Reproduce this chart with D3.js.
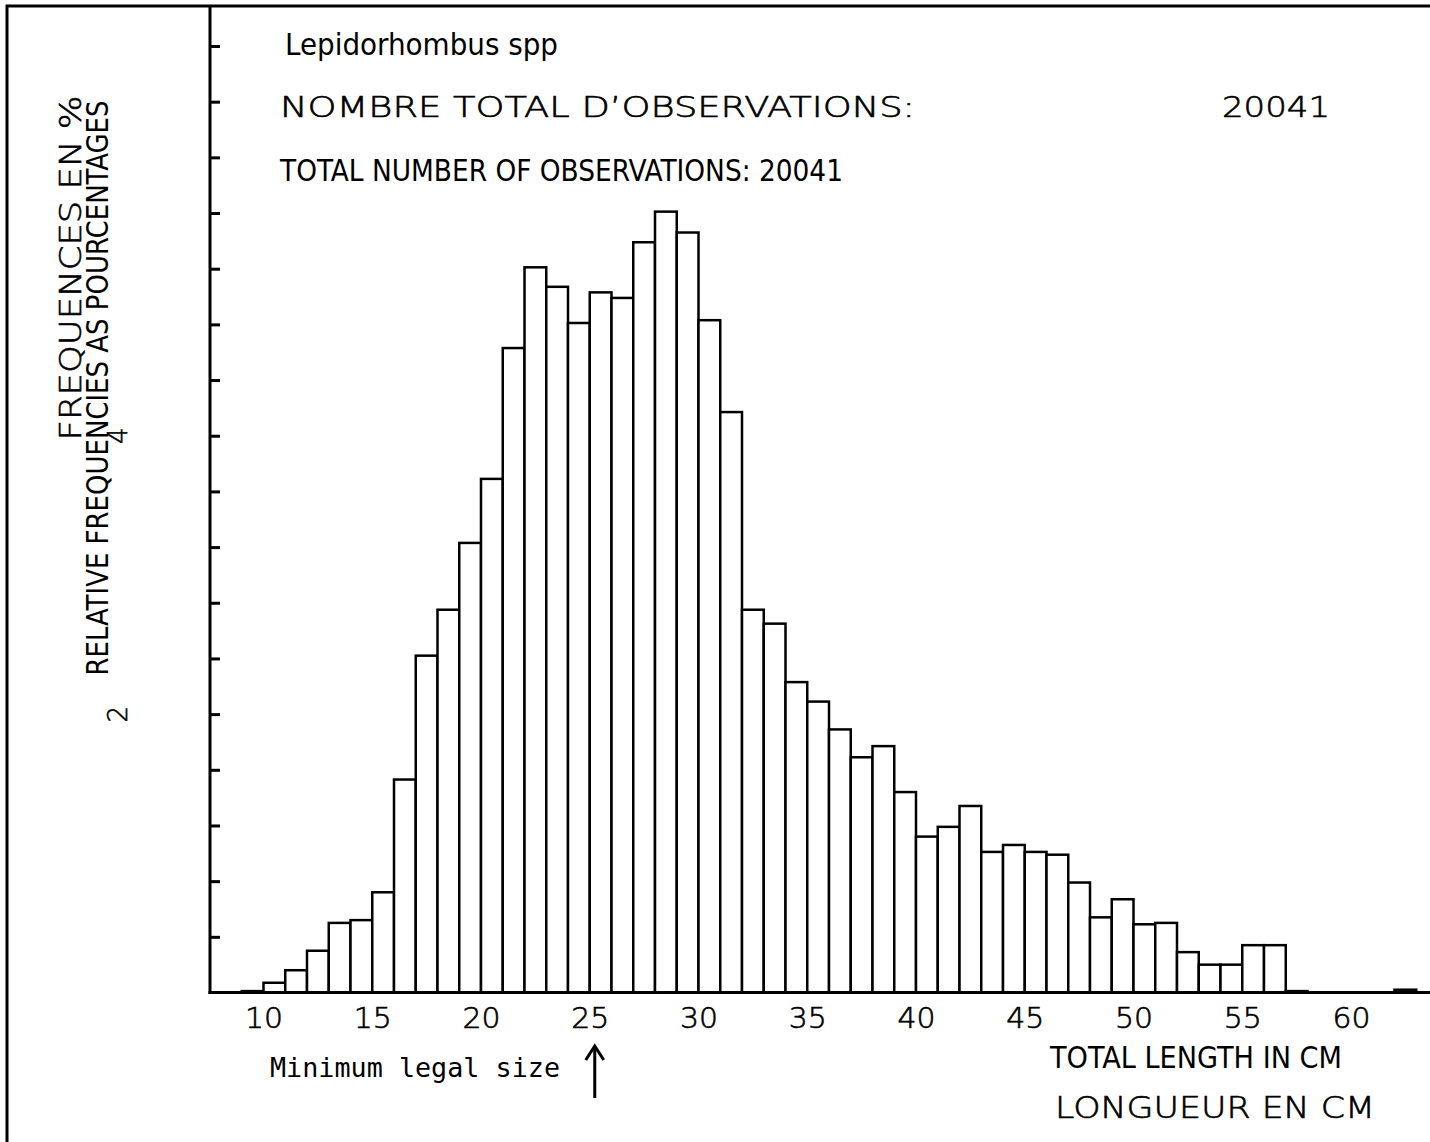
<!DOCTYPE html>
<html>
<head>
<meta charset="utf-8">
<script src="https://cdn.jsdelivr.net/npm/d3@7"></script>
<style>
  body { margin: 0; background: #fff; }
  svg { display: block; }
  .plot-txt { font-family: 'DejaVu Sans', sans-serif; font-weight: 200; stroke: #000; stroke-width: 0.6px; }
</style>
</head>
<body>
<div id="root"></div>
<script>
// length classes (cm, lower bound) and relative frequencies (%)
const lengths = [9, 10, 11, 12, 13, 14, 15, 16, 17, 18, 19, 20, 21, 22, 23, 24, 25, 26, 27, 28, 29,
  30, 31, 32, 33, 34, 35, 36, 37, 38, 39, 40, 41, 42, 43, 44, 45, 46, 47, 48, 49, 50,
  51, 52, 53, 54, 55, 56, 57, 58, 59, 60, 61, 62];
const freqs = [0.01, 0.07, 0.16, 0.30, 0.50, 0.52, 0.72, 1.53, 2.42, 2.75, 3.23, 3.69, 4.63, 5.21, 5.07, 4.81, 5.03, 4.99, 5.39, 5.61, 5.46,
  4.83, 4.17, 2.75, 2.65, 2.23, 2.09, 1.89, 1.69, 1.77, 1.44, 1.12, 1.19, 1.34, 1.01, 1.06, 1.01, 0.99, 0.79, 0.54, 0.67, 0.49,
  0.50, 0.29, 0.20, 0.20, 0.34, 0.34, 0.01, 0, 0, 0, 0, 0.02];
const xTicks = [10, 15, 20, 25, 30, 35, 40, 45, 50, 55, 60];
const yTicks = [0.4, 0.8, 1.2, 1.6, 2.0, 2.4, 2.8, 3.2, 3.6, 4.0, 4.4, 4.8, 5.2, 5.6, 6.0, 6.4, 6.8];
const yLabels = [2, 4];
const species = "Lepidorhombus spp";
const totalObs = 20041;

const W = 1430, H = 1142;
const mono = "'DejaVu Sans Mono', monospace";
const narrow = "'Liberation Sans Narrow', 'DejaVu Sans Condensed', sans-serif";

const svg = d3.select("#root").append("svg")
  .attr("width", W)
  .attr("height", H);

const x = d3.scaleLinear().domain([10, 60]).range([263.5, 1351]);
const y = d3.scaleLinear().domain([0, 6.8]).range([992.5, 46]);
const axisX = 210;

// outer frame (left + top)
svg.append("path")
  .attr("d", "M7,1142 L7,6 L1430,6")
  .attr("fill", "none")
  .attr("stroke", "#000")
  .attr("stroke-width", 3);

// bars
const data = lengths.map((l, i) => ({ cm: l, v: freqs[i] })).filter(d => d.v > 0);
svg.append("g")
  .selectAll("rect")
  .data(data)
  .enter().append("rect")
    .attr("x", d => x(d.cm))
    .attr("y", d => y(d.v))
    .attr("width", d => x(d.cm + 1) - x(d.cm))
    .attr("height", d => y(0) - y(d.v))
    .attr("fill", "#fff")
    .attr("stroke", "#000")
    .attr("stroke-width", 2.5);

// y axis: inward ticks, no labels from the axis itself
const yAxis = svg.append("g")
  .attr("transform", "translate(" + axisX + ",0)")
  .call(d3.axisRight(y).tickValues(yTicks).tickSize(10).tickFormat(""));
yAxis.select(".domain").remove();
yAxis.selectAll("line").attr("stroke", "#000").attr("stroke-width", 3);
svg.append("line")
  .attr("x1", axisX).attr("x2", axisX)
  .attr("y1", 6).attr("y2", y(0) + 1.5)
  .attr("stroke", "#000").attr("stroke-width", 3);

// rotated y tick labels
svg.append("g")
  .selectAll("text")
  .data(yLabels)
  .enter().append("text")
    .attr("class", "plot-txt")
    .attr("transform", d => "translate(127," + y(d) + ") rotate(-90)")
    .attr("text-anchor", "middle")
    .style("font-size", "26px")
    .text(d => d);

// x axis
const xAxis = svg.append("g")
  .attr("transform", "translate(0," + y(0) + ")")
  .call(d3.axisBottom(x).tickValues(xTicks).tickSize(0).tickPadding(0).tickFormat(d3.format("d")));
xAxis.select(".domain").remove();
xAxis.selectAll("text")
  .attr("class", "plot-txt")
  .attr("dy", null)
  .attr("y", 35)
  .attr("textLength", 38)
  .attr("lengthAdjust", "spacingAndGlyphs")
  .style("font-size", "28px")
  .attr("fill", "#000");
svg.append("line")
  .attr("x1", axisX - 1.5).attr("x2", W)
  .attr("y1", y(0)).attr("y2", y(0))
  .attr("stroke", "#000").attr("stroke-width", 3);

// header texts
svg.append("text")
  .attr("x", 285).attr("y", 55)
  .attr("textLength", 273).attr("lengthAdjust", "spacingAndGlyphs")
  .style("font-family", narrow).style("font-size", "30px")
  .text(species);

svg.append("text")
  .attr("class", "plot-txt")
  .attr("x", 280).attr("y", 117)
  .attr("textLength", 635).attr("lengthAdjust", "spacingAndGlyphs")
  .style("font-size", "28px")
  .text("NOMBRE TOTAL D\u2019OBSERVATIONS:");

svg.append("text")
  .attr("class", "plot-txt")
  .attr("x", 1222).attr("y", 117)
  .attr("textLength", 108).attr("lengthAdjust", "spacingAndGlyphs")
  .style("font-size", "28px")
  .text(totalObs);

svg.append("text")
  .attr("x", 280).attr("y", 181)
  .attr("textLength", 563).attr("lengthAdjust", "spacingAndGlyphs")
  .style("font-family", narrow).style("font-size", "31px")
  .text("TOTAL NUMBER OF OBSERVATIONS: " + totalObs);

// y titles
svg.append("text")
  .attr("class", "plot-txt")
  .attr("transform", "translate(81,268) rotate(-90)")
  .attr("text-anchor", "middle")
  .attr("textLength", 345).attr("lengthAdjust", "spacingAndGlyphs")
  .style("font-size", "31px")
  .text("FREQUENCES EN %");

svg.append("text")
  .attr("transform", "translate(108,388) rotate(-90)")
  .attr("text-anchor", "middle")
  .attr("textLength", 575).attr("lengthAdjust", "spacingAndGlyphs")
  .style("font-family", narrow).style("font-size", "30px")
  .text("RELATIVE FREQUENCIES AS POURCENTAGES");

// x titles
svg.append("text")
  .attr("x", 1050).attr("y", 1068)
  .attr("textLength", 292).attr("lengthAdjust", "spacingAndGlyphs")
  .style("font-family", narrow).style("font-size", "30px")
  .text("TOTAL LENGTH IN CM");

svg.append("text")
  .attr("class", "plot-txt")
  .attr("x", 1055).attr("y", 1118)
  .attr("textLength", 320).attr("lengthAdjust", "spacingAndGlyphs")
  .style("font-size", "30px")
  .text("LONGUEUR EN CM");

// minimum legal size marker
const legalSize = 25;
svg.append("text")
  .attr("x", 270).attr("y", 1077)
  .attr("textLength", 290).attr("lengthAdjust", "spacingAndGlyphs")
  .style("font-family", mono).style("font-size", "27px")
  .text("Minimum legal size");

const ax = x(legalSize) + 5;
svg.append("line")
  .attr("x1", ax).attr("x2", ax)
  .attr("y1", 1098).attr("y2", 1047)
  .attr("stroke", "#000").attr("stroke-width", 3);
svg.append("path")
  .attr("d", "M" + (ax - 9) + ",1060 L" + ax + ",1046 L" + (ax + 9) + ",1060")
  .attr("fill", "none")
  .attr("stroke", "#000").attr("stroke-width", 3);
</script>
</body>
</html>
